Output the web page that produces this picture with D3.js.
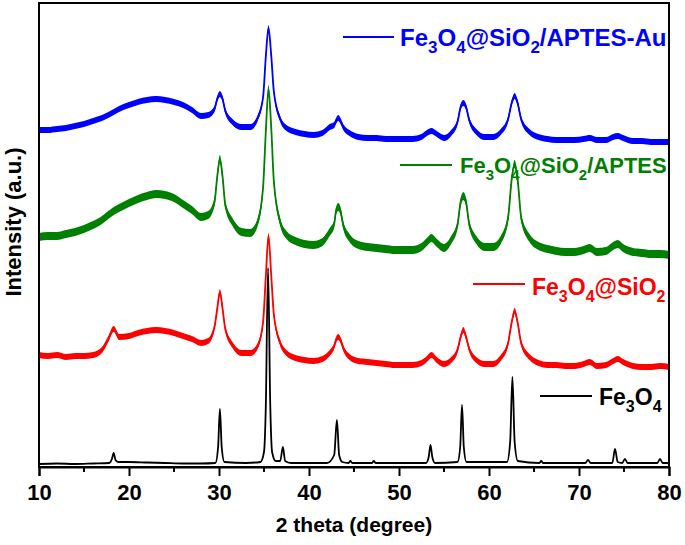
<!DOCTYPE html>
<html><head><meta charset="utf-8">
<script src="https://cdn.jsdelivr.net/npm/d3@7"></script>
<style>body{margin:0;background:#fff}svg{display:block}text{font-family:"Liberation Sans",Arial,sans-serif;font-weight:bold}</style>
</head><body><svg id="c" width="685" height="545"></svg>
<script>
// 2-theta grid for the broad (coated) patterns
const grid = [10,11,12,13,14,15,16,17, 17.7,18.3,18.9, 20,21,22,23,24,25,26,27,28, 28.8,29.5,29.8,30.1,30.4,30.7, 31.5,32.5,33.5,34.3,34.9,35.2,35.5,35.8,36.1,36.8,37.5, 38.5,39.5,40.5,41.5,42.3, 42.8,43.0,43.25,43.5,43.8, 44.5,45.5,46.5,47.5,48.5,49.5,50.5,51.5,52.5, 53.1,53.6,54.2,55,55.8,56.5, 56.85,57.15,57.45,57.8,58.6, 59.5,60.5,61.3,62.1, 62.55,62.85,63.15,63.6, 64.5,65.5,66.5,67.5,68.5,69.5,70.5, 71.2,72,73,73.8,74.3,74.9, 76,77,78,79,80];
const redVals = [12,11,12,10,11,11,12,17, 28,38,30, 31,34,36,37,36,34,31,28,24, 26,40,58,75,58,38, 22,14,14,21,45,90,131,92,52,24,14, 9,7,6,8,14, 21,27,30,27,19, 10,6,5,4,3,2,2,2,4, 8,12,7,3,7,17, 30,37,30,18,7, 3,3,9,23, 46,56,46,23, 10,4,2,2,1,1,3, 5,1,2,6,8,5, 1,0,0,1,0];
const greenVals = [20,21,21,23,25,28,32,37, 42,46,49, 54,58,61,63,62,59,53,47,40, 42,55,80,98,80,52, 35,25,24,35,70,125,168,130,75,35,22, 16,13,12,15,25, 33,46,50,46,32, 19,12,10,9,8,7,7,7,10, 15,19,14,9,17,32, 55,61,55,33,17, 10,10,17,38, 80,93,80,38, 19,11,8,6,5,5,7, 9,5,6,11,13,9, 5,4,3,3,2];
const blueVals = [17,17,18,19,21,23,26,29, 32,35,38, 42,45,47,48,47,45,42,37,31, 32,38,48,53,48,36, 25,20,20,29,50,90,119,92,55,28,19, 15,13,12,14,20, 22,26,29,26,20, 14,10,9,9,8,8,8,8,10, 14,16,13,9,14,25, 40,44,40,27,15, 10,10,15,27, 45,51,45,27, 15,10,8,7,7,7,8, 9,7,7,10,11,9, 6,6,5,5,5];
// bare Fe3O4 pattern (sharp peaks)
const blackX = [10,12,14,16,17.8,18.1,18.3,18.5,18.8,20,22,24,26,28,29.6,29.9,30.1,30.3,30.6,33,34.6,35.0,35.2,35.45,35.7,35.9,36.3,36.8,37.1,37.35,38,42,42.8,43.1,43.35,43.7,44.4,44.6,44.8,47,47.2,47.4,53,53.3,53.5,53.7,54,56.5,56.8,57.0,57.2,57.5,62,62.35,62.6,62.85,63.2,65.6,65.8,66,70.7,71.0,71.3,73.7,74.0,74.3,74.8,75.1,75.4,78.7,79.0,79.3,80];
const blackVals = [3,3.5,3,3.5,4,8,14,7,5,5,4.5,4,3.5,3.5,4,20,58,20,5,4,5,15,60,199,60,15,6,6,20,6,4,4,12,47,12,5,4,6,4,4,6,4,4,10,22,10,4,5,20,62,20,5,5,25,90,25,6,4,6,4,4,7,4,4,18,5,4,8,4,4,8,4,4];
const names = ["Fe3O4","Fe3O4@SiO2","Fe3O4@SiO2/APTES","Fe3O4@SiO2/APTES-Au"];
const colors = ["#000000","#ff0000","#008000","#0000ff"];
const offsets = [0,100,210,320];
const noiseAmp = [0,3,4,3];
const xTicks = [10,20,30,40,50,60,70,80];

const svg = d3.select("#c");
const L=39,R=669,T=3,B=467;
const x = d3.scaleLinear().domain([10,80]).range([L,R]);
const y = d3.scaleLinear().domain([0,464]).range([B,T]);

const series = [
  {xs:blackX, vs:blackVals},
  {xs:grid, vs:redVals},
  {xs:grid, vs:greenVals},
  {xs:grid, vs:blueVals}
];
const line = d3.line().curve(d3.curveMonotoneX);
const area = d3.area().curve(d3.curveMonotoneX);
series.forEach((s,i)=>{
  const a = noiseAmp[i];
  if(a>0){
    const band = s.xs.map((t,j)=>[x(t), y(s.vs[j]+offsets[i]-a), y(s.vs[j]+offsets[i]+a)]);
    svg.append("path").attr("d", area.x(d=>d[0]).y0(d=>d[1]).y1(d=>d[2])(band))
      .attr("fill",colors[i]).attr("stroke","none");
  }
  const pts = s.xs.map((t,j)=>[x(t), y(s.vs[j]+offsets[i])]);
  svg.append("path").attr("d", line(pts)).attr("fill","none")
    .attr("stroke",colors[i]).attr("stroke-width",1.8).attr("stroke-linejoin","round");
});

// frame
svg.append("rect").attr("x",L).attr("y",T).attr("width",R-L).attr("height",B-T)
  .attr("fill","none").attr("stroke","#000").attr("stroke-width",2);

// bottom axis
const ax = d3.axisBottom(x).tickValues(xTicks).tickSize(9).tickFormat(d3.format("d"));
const g = svg.append("g").attr("transform",`translate(0,${B})`).call(ax);
g.select(".domain").attr("stroke-width",2);
g.selectAll(".tick line").attr("stroke-width",2);
g.selectAll(".tick text").attr("font-size",22).attr("font-family","Liberation Sans, Arial").attr("font-weight","bold").attr("fill","#000").attr("dy","0.95em");
const minor = d3.range(15,80,10);
svg.append("g").selectAll("line").data(minor).join("line")
  .attr("x1",d=>x(d)).attr("x2",d=>x(d)).attr("y1",B).attr("y2",B+5)
  .attr("stroke","#000").attr("stroke-width",2);

svg.append("text").attr("x",(L+R)/2).attr("y",532).attr("text-anchor","middle")
  .attr("font-size",21).text("2 theta (degree)");
svg.append("text").attr("transform","translate(21,222) rotate(-90)").attr("text-anchor","middle")
  .attr("font-size",22).text("Intensity (a.u.)");

// legend labels
const legend = [
  {i:3, lx1:343, lx2:394, ly:37, tx:400, ty:46, fs:24},
  {i:2, lx1:400, lx2:452, ly:165, tx:460, ty:173, fs:22},
  {i:1, lx1:473, lx2:525, ly:284, tx:532, ty:295, fs:23},
  {i:0, lx1:540, lx2:592, ly:396, tx:599, ty:405, fs:23}
];
function addLabel(t, str, fs){
  const sub = Math.round(fs*0.7), sh = Math.round(fs*0.3);
  const parts = str.split(/(\d)/).filter(p=>p!=="");
  parts.forEach(p=>{
    if(/^\d$/.test(p)) t.append("tspan").attr("font-size",sub).attr("dy",sh).text(p);
    else t.append("tspan").attr("font-size",fs).attr("dy",-sh).text(p);
  });
  t.select("tspan").attr("dy",0);
}
legend.forEach(d=>{
  svg.append("line").attr("x1",d.lx1).attr("x2",d.lx2).attr("y1",d.ly).attr("y2",d.ly)
    .attr("stroke",colors[d.i]).attr("stroke-width",2);
  const t = svg.append("text").attr("x",d.tx).attr("y",d.ty).attr("fill",colors[d.i]);
  addLabel(t, names[d.i], d.fs);
});
</script></body></html>
